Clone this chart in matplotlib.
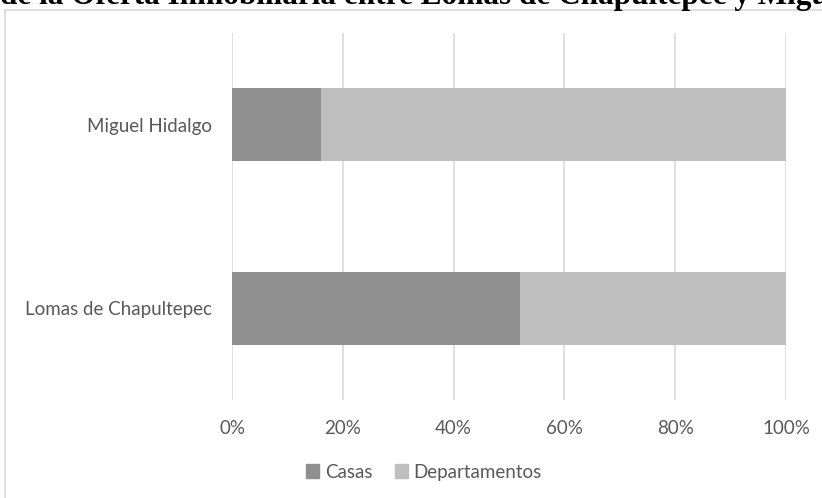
import matplotlib.pyplot as plt
from matplotlib.patches import Rectangle, Patch
from matplotlib.ticker import PercentFormatter

categories = ['Lomas de Chapultepec', 'Miguel Hidalgo']
casas = [52, 16]
departamentos = [48, 84]
series_names = ['Casas', 'Departamentos']
title = 'de la Oferta Inmobiliaria entre Lomas de Chapultepec y Miguel Hidalgo'

TEXT = '#595959'
GRID = '#d9d9d9'
C_CASAS = '#8f8f8f'
C_DEPTOS = '#bfbfbf'

plt.rcParams['font.family'] = ['Lato', 'DejaVu Sans']

fig = plt.figure(figsize=(8.22, 4.98), dpi=100)
fig.set_facecolor('white')

# chart frame (cropped on the right and bottom)
fig.patches.append(Rectangle((5 / 822, -0.2), 1.5, 1.2 - 9.5 / 498, transform=fig.transFigure,
                             fill=False, edgecolor=GRID, lw=1.2))

# title, cropped at the top like in the source image
fig.text(0, 1 - 4 / 498, title, ha='left', va='baseline', fontsize=22.5, fontweight='bold',
         family='Liberation Serif', color='black')

ax = fig.add_axes([232 / 822, 98 / 498, 554 / 822, 367 / 498])
y = range(len(categories))
ax.barh(y, casas, height=0.4, color=C_CASAS, label=series_names[0])
ax.barh(y, departamentos, left=casas, height=0.4, color=C_DEPTOS, label=series_names[1])

ax.set_xlim(0, 100)
ax.set_ylim(-0.5, 1.5)
ax.set_xticks(range(0, 101, 20))
ax.xaxis.set_major_formatter(PercentFormatter(decimals=0))
ax.set_yticks(list(y))
ax.set_yticklabels(categories)
ax.grid(axis='x', color=GRID, lw=1.2)
ax.set_axisbelow(True)
for s in ax.spines.values():
    s.set_visible(False)
ax.tick_params(axis='both', length=0, colors=TEXT, labelsize=13.5)
ax.tick_params(axis='y', pad=14.5)
ax.tick_params(axis='x', pad=14.5)

handles = [Patch(color=C_CASAS), Patch(color=C_DEPTOS)]
fig.legend(handles, series_names, loc='center', bbox_to_anchor=(424 / 822, 1 - 472 / 498), ncol=2,
           frameon=False, fontsize=13.5, labelcolor=TEXT, handlelength=0.7, handleheight=0.7,
           handletextpad=0.3, columnspacing=1.2)

fig.savefig('out.png', dpi=100)
